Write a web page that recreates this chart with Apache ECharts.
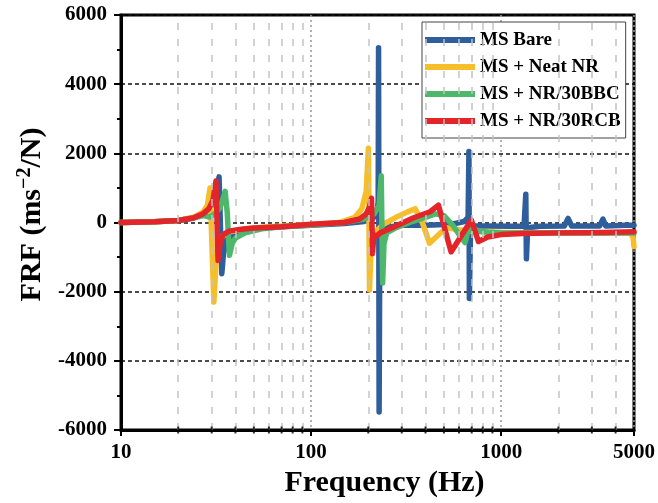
<!DOCTYPE html>
<html>
<head>
<meta charset="utf-8">
<script src="https://cdn.jsdelivr.net/npm/echarts@6/dist/echarts.min.js"></script>
<style>html,body{margin:0;padding:0;background:#fff}#c{width:658px;height:503px}</style>
</head>
<body>
<div id="c"></div>
<script>
// ---- data ----
const seriesNames = ['MS Bare', 'MS + Neat NR', 'MS + NR/30BBC', 'MS + NR/30RCB'];
const seriesColors = ['#2E5E9B', '#F5BE2A', '#4DB86C', '#E3252B'];

const bareFreq = [10, 15, 20, 24, 27, 29, 30.5, 31.5, 32.3, 32.8, 33.9, 34.6, 36, 40, 50, 70, 100, 150, 190, 210, 222, 225.5, 226.5, 228, 230, 240, 300, 400, 550, 640, 670, 677, 680.5, 690, 710, 850, 1100, 1320, 1348, 1358, 1380, 1600, 2150, 2250, 2350, 3300, 3430, 3550, 4500, 5000];
const bareFRF = [0, 20, 60, 130, 250, 380, 550, 800, 1100, 1320, -1480, -900, -500, -300, -180, -120, -80, -30, 30, 100, 250, 600, 5050, -5480, -400, -150, -80, -80, -50, 30, 150, 2050, -2200, -200, -100, -100, -110, -100, 820, -1050, -150, -110, -100, 120, -100, -100, 100, -100, -80, -80];

const neatFreq = [10, 15, 20, 24, 27, 28.5, 29.4, 30.8, 31.6, 32.5, 34, 37, 45, 60, 100, 140, 170, 185, 195, 200.3, 203, 207, 215, 240, 280, 320, 353, 385, 420, 470, 515, 580, 700, 1000, 2000, 4800, 4950, 5000];
const neatFRF = [0, 20, 60, 150, 300, 500, 1000, -2300, -1200, -650, -400, -280, -180, -120, -60, 0, 150, 400, 900, 2150, -1950, -700, -300, -50, 150, 300, 400, 0, -600, -350, -150, -200, -250, -280, -300, -300, -450, -700];

const bbcFreq = [10, 15, 20, 24, 27, 29.4, 31, 33, 34.5, 35.3, 36.2, 37.2, 38.5, 40, 45, 55, 70, 100, 150, 190, 215, 228, 234, 238, 242, 250, 280, 330, 400, 450, 500, 560, 620, 646, 665, 700, 760, 850, 1000, 2000, 5000];
const bbcFRF = [0, 20, 60, 130, 200, 160, 250, 400, 700, 900, 300, -950, -600, -450, -300, -180, -120, -70, 0, 100, 250, 500, 1350, -1750, -600, -300, -150, 0, 150, 250, 200, -100, -450, -580, -300, -150, -250, -280, -300, -300, -300];

const rcbFreq = [10, 15, 20, 24, 27, 29, 30.5, 31.6, 32.4, 33.2, 34.5, 37, 42, 50, 70, 100, 150, 180, 195, 203, 208, 210.5, 214, 220, 231, 280, 344, 423, 468, 545, 697, 760, 850, 1000, 1300, 2000, 3500, 5000];
const rcbFRF = [0, 20, 60, 130, 250, 400, 650, 1200, -1100, -600, -350, -250, -200, -160, -120, -50, 0, 100, 250, 450, 700, -900, -350, -400, -300, -100, 130, 310, 500, -850, 70, -550, -420, -350, -320, -300, -290, -270];

const minorTickValues = [20, 30, 40, 50, 60, 70, 80, 90, 200, 300, 400, 500, 600, 700, 800, 900, 2000, 3000, 4000];
const xMin = 10, xMax = 5000;
const yMin = -6000, yMax = 6000, yInterval = 2000;

// ---- chart ----
const FONT = '"Liberation Serif", "Times New Roman", serif';
function zip(f, v) { return f.map((x, i) => [x, v[i]]); }
const allData = [zip(bareFreq, bareFRF), zip(neatFreq, neatFRF), zip(bbcFreq, bbcFRF), zip(rcbFreq, rcbFRF)];

const chart = echarts.init(document.getElementById('c'), null, { renderer: 'canvas' });

const lineSeries = seriesNames.map((n, i) => ({
  name: n, type: 'line', data: allData[i], showSymbol: false, symbol: 'none', z: 3,
  lineStyle: { width: 5.5, color: seriesColors[i], join: 'round', cap: 'round' },
  itemStyle: { color: seriesColors[i] }
}));

const option = {
  animation: false,
  backgroundColor: '#fff',
  grid: { left: 121, right: 22.5, top: 15, bottom: 73, show: true, borderColor: '#000', borderWidth: 3, containLabel: false },
  legend: {
    orient: 'vertical', left: 422, top: 22, padding: [8, 5, 7, 0], itemGap: 7,
    itemWidth: 50, itemHeight: 6,
    lineStyle: { width: 6, cap: 'butt' },
    itemStyle: { borderWidth: 0, opacity: 0 },
    backgroundColor: '#fff', borderColor: '#444', borderWidth: 1,
    data: seriesNames,
    textStyle: { fontFamily: FONT, fontWeight: 'bold', fontSize: 19, color: '#000', lineHeight: 20 }
  },
  xAxis: {
    type: 'log', logBase: 10, min: xMin, max: xMax,
    name: 'Frequency (Hz)', nameLocation: 'middle', nameGap: 24,
    nameTextStyle: { fontFamily: FONT, fontWeight: 'bold', fontSize: 30, color: '#000', padding: [0, 0, 0, 14] },
    axisLine: { show: true, onZero: false, lineStyle: { color: '#000', width: 3 } },
    axisTick: { show: true, length: 6, lineStyle: { width: 2, color: '#000' } },
    axisLabel: { fontFamily: FONT, fontWeight: 'bold', fontSize: 21, color: '#000', margin: 12, formatter: v => String(v) },
    splitLine: { show: true, lineStyle: { color: '#999', type: [2, 3], width: 1.5 } }
  },
  yAxis: {
    type: 'value', min: yMin, max: yMax, interval: yInterval,
    name: '{m|FRF (ms}{s|−2}{m|/N)}', nameLocation: 'middle', nameGap: 70,
    nameTextStyle: {
      padding: [0, 0, 0, 16],
      rich: {
        m: { fontFamily: FONT, fontWeight: 'bold', fontSize: 30, color: '#000', lineHeight: 34 },
        s: { fontFamily: FONT, fontWeight: 'bold', fontSize: 20, color: '#000', verticalAlign: 'top', lineHeight: 22 }
      }
    },
    axisLine: { show: true, lineStyle: { color: '#000', width: 3 } },
    axisTick: { show: true, length: 7, lineStyle: { width: 2, color: '#000' } },
    minorTick: { show: true, splitNumber: 2, length: 4, lineStyle: { width: 2, color: '#000' } },
    axisLabel: { fontFamily: FONT, fontWeight: 'bold', fontSize: 21, color: '#000', margin: 14, formatter: v => String(v) },
    splitLine: { show: true, lineStyle: { color: '#111', type: [4, 3], width: 1.5 } }
  },
  series: [
    {
      type: 'line', data: [], z: 1, silent: true,
      markLine: {
        silent: true, symbol: ['none', 'none'], label: { show: false }, animation: false,
        lineStyle: { color: '#c4c4c4', type: [7, 9], width: 1.5 },
        data: minorTickValues.map(v => ({ xAxis: v }))
      }
    },
    ...lineSeries,
    {
      type: 'scatter', data: minorTickValues.map(v => [v, yMin]), symbol: 'rect', symbolSize: [2, 7],
      itemStyle: { color: '#000' }, silent: true, clip: false, z: 5
    }
  ]
};
chart.setOption(option);
</script>
</body>
</html>
